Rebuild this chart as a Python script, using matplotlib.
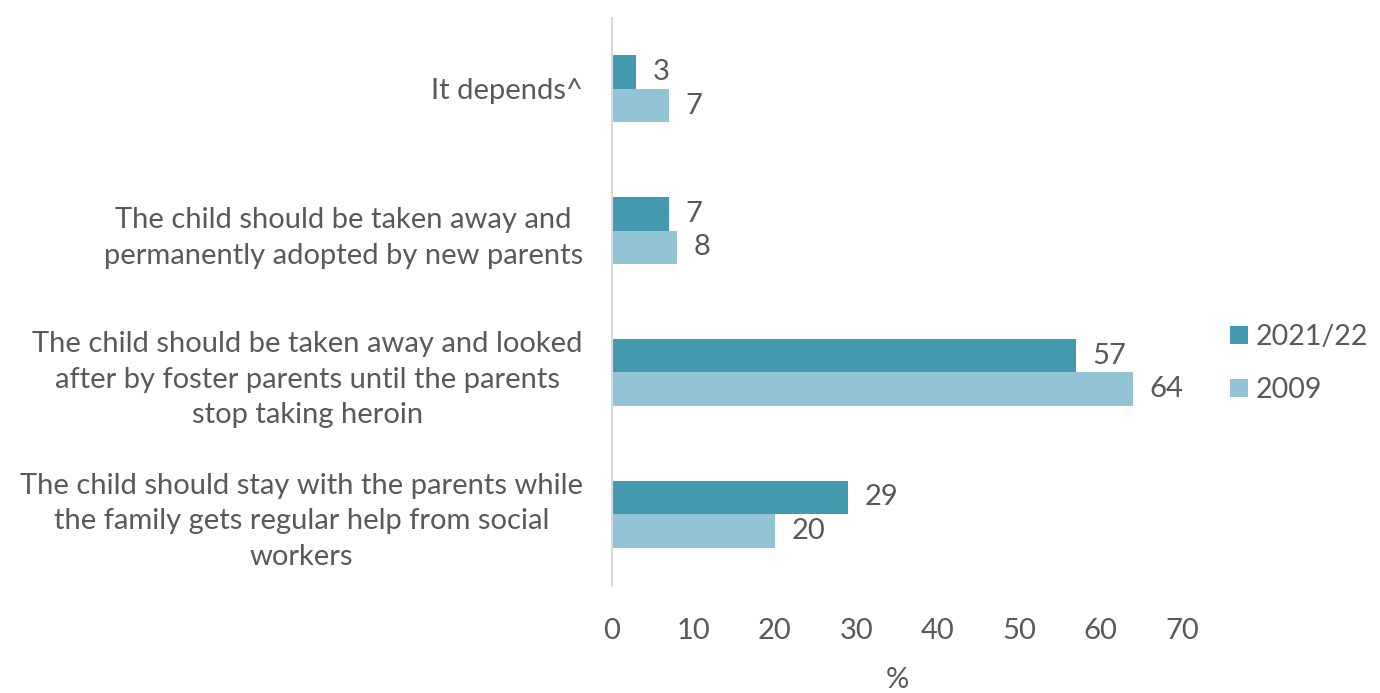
import numpy as np
import matplotlib.pyplot as plt

# survey answers, top to bottom as drawn
categories = [
    "It depends^",
    "The child should be taken away and\npermanently adopted by new parents",
    "The child should be taken away and looked\nafter by foster parents until the parents\nstop taking heroin",
    "The child should stay with the parents while\nthe family gets regular help from social\nworkers",
]
series_names = ["2021/22", "2009"]
values_2021 = [3, 7, 57, 29]
values_2009 = [7, 8, 64, 20]
xticks = [0, 10, 20, 30, 40, 50, 60, 70]

dark = "#4399ae"
light = "#93c4d6"
grey = "#595959"

plt.rcParams['font.family'] = ['Lato', 'DejaVu Sans']
plt.rcParams['font.size'] = 21

fig = plt.figure(figsize=(13.8, 6.93), dpi=100)
ax = fig.add_axes([612 / 1380, 1 - 585 / 693, (1182 - 612) / 1380, (585 - 18) / 693])

y = np.arange(len(categories))
h = 0.237
b1 = ax.barh(y - h / 2, values_2021, height=h, color=dark, label=series_names[0])
b2 = ax.barh(y + h / 2, values_2009, height=h, color=light, label=series_names[1])

for bars, vals in ((b1, values_2021), (b2, values_2009)):
    for bar, v in zip(bars, vals):
        ax.text(v + 2.0, bar.get_y() + bar.get_height() / 2, str(v),
                va='center', ha='left', color=grey, fontsize=21)

ax.set_ylim(len(categories) - 0.5, -0.5)
ax.set_xlim(0, 70)
ax.set_yticks(y)
ax.set_yticklabels(categories, color=grey, fontsize=21, linespacing=1.45,
                   multialignment='center')
ax.set_xticks(xticks)
ax.set_xticklabels([str(t) for t in xticks], color=grey, fontsize=21)
ax.tick_params(axis='both', length=0)
ax.tick_params(axis='y', pad=21)
ax.tick_params(axis='x', pad=24)
ax.set_xlabel("%", color=grey, fontsize=21, labelpad=16)

for side in ("top", "right", "bottom"):
    ax.spines[side].set_visible(False)
ax.spines["left"].set_color("#d9d9d9")
ax.spines["left"].set_linewidth(1.5)

leg = ax.legend(loc='center left', bbox_to_anchor=(1.04, 0.39), frameon=False,
                fontsize=20.5, handlelength=0.6, handleheight=0.6,
                handletextpad=0.3, labelspacing=0.95, labelcolor=grey)

fig.savefig("out.png", dpi=100)
